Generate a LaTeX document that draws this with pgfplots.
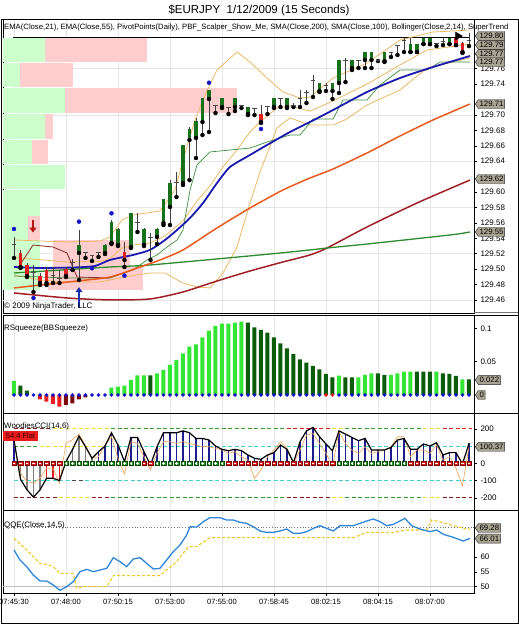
\documentclass[border=0pt]{standalone}
\usepackage{pgfplots}
\pgfplotsset{compat=1.18}
\usepackage{pgfplotstable}
\usepackage{fontspec}
\setmainfont{Liberation Sans}
\usetikzlibrary{shapes.symbols,arrows.meta}

\definecolor{gridc}{HTML}{E6E6E6}
\definecolor{pinkz}{HTML}{FFCDCD}
\definecolor{greenz}{HTML}{CDFFCD}
\definecolor{upc}{HTML}{17701A}
\definecolor{dnc}{HTML}{E02020}
\definecolor{emablue}{HTML}{1A1AAE}
\definecolor{emaorange}{HTML}{E85A1A}
\definecolor{smared}{HTML}{A01E24}
\definecolor{smagreen}{HTML}{2D8C2D}
\definecolor{bbc}{HTML}{EBB866}
\definecolor{stgreen}{HTML}{3E8E3E}
\definecolor{maroonl}{HTML}{8E2A2A}
\definecolor{dotblue}{HTML}{1414C8}
\definecolor{arrowred}{HTML}{B81414}
\definecolor{arrowblue}{HTML}{1A30B0}
\definecolor{sqlg}{HTML}{33E633}
\definecolor{sqdg}{HTML}{0A5C0A}
\definecolor{sqr}{HTML}{E81E1E}
\definecolor{sqdr}{HTML}{7A0A0A}
\definecolor{ccib}{HTML}{1C1C8C}
\definecolor{ccio}{HTML}{F0A050}
\definecolor{lvdr}{HTML}{8B1A1A}
\definecolor{lvy}{HTML}{F0E030}
\definecolor{lvg}{HTML}{2EA02E}
\definecolor{lvr}{HTML}{E02020}
\definecolor{lvc}{HTML}{40D0D0}
\definecolor{qqeb}{HTML}{2F86D6}
\definecolor{qqey}{HTML}{F2C81E}
\definecolor{flagc}{HTML}{A8A493}

\pgfplotstableread{
i o h l c t
0 129.5326 129.5417 129.5145 129.5326 0
1 129.5210 129.5249 129.5015 129.5028 -1
2 129.5054 129.5080 129.4898 129.4911 -1
3 129.4963 129.5054 129.4704 129.4963 0
4 129.4911 129.4950 129.4795 129.4820 -1
5 129.4989 129.5028 129.4795 129.4820 -1
6 129.4924 129.5028 129.4820 129.4924 0
7 129.4885 129.4989 129.4820 129.4885 0
8 129.5002 129.5028 129.4898 129.4911 -1
9 129.5093 129.5132 129.4989 129.5093 0
10 129.5210 129.5508 129.4859 129.5313 1
11 129.5223 129.5223 129.5145 129.5223 0
12 129.5184 129.5184 129.5106 129.5184 0
13 129.5223 129.5223 129.5158 129.5223 0
14 129.5210 129.5326 129.5197 129.5313 1
15 129.5339 129.5638 129.5326 129.5612 1
16 129.5313 129.5534 129.5300 129.5521 1
17 129.5223 129.5352 129.5028 129.5119 -1
18 129.5287 129.5728 129.5274 129.5728 1
19 129.5612 129.5728 129.5482 129.5612 0
20 129.5313 129.5534 129.5300 129.5521 1
21 129.5417 129.5469 129.5119 129.5417 0
22 129.5417 129.5534 129.5326 129.5521 1
23 129.5599 129.5910 129.5573 129.5910 1
24 129.5806 129.6156 129.5573 129.6117 1
25 129.6130 129.6260 129.5936 129.6130 0
26 129.6117 129.6610 129.6092 129.6610 1
27 129.6675 129.6844 129.6156 129.6818 1
28 129.6701 129.6961 129.6442 129.6922 1
29 129.6909 129.7220 129.6740 129.7220 1
30 129.7207 129.7324 129.6779 129.7324 1
31 129.7129 129.7129 129.7025 129.7129 0
32 129.7103 129.7220 129.7090 129.7220 1
33 129.7103 129.7103 129.7012 129.7103 0
34 129.7103 129.7220 129.7051 129.7220 1
35 129.7129 129.7129 129.7090 129.7129 0
36 129.7012 129.7103 129.6999 129.7103 1
37 129.7090 129.7090 129.6999 129.7090 0
38 129.7012 129.7129 129.6896 129.6909 -1
39 129.7116 129.7116 129.7012 129.7116 0
40 129.7103 129.7220 129.7090 129.7220 1
41 129.7220 129.7220 129.7103 129.7220 0
42 129.7103 129.7220 129.7090 129.7220 1
43 129.7129 129.7155 129.7103 129.7129 0
44 129.7220 129.7324 129.7103 129.7220 0
45 129.7298 129.7324 129.7155 129.7298 0
46 129.7453 129.7518 129.7233 129.7453 0
47 129.7311 129.7414 129.7298 129.7414 1
48 129.7389 129.7414 129.7311 129.7389 0
49 129.7311 129.7414 129.7207 129.7414 1
50 129.7414 129.7713 129.7285 129.7713 1
51 129.7713 129.7739 129.7427 129.7713 0
52 129.7609 129.7713 129.7583 129.7713 1
53 129.7713 129.7713 129.7609 129.7713 0
54 129.7713 129.7817 129.7609 129.7817 1
55 129.7713 129.7817 129.7609 129.7817 1
56 129.7713 129.7713 129.7700 129.7713 0
57 129.7700 129.7817 129.7687 129.7817 1
58 129.7817 129.7817 129.7752 129.7817 0
59 129.7907 129.7907 129.7778 129.7907 0
60 129.7972 129.7998 129.7817 129.7972 0
61 129.7817 129.7998 129.7817 129.7920 1
62 129.7817 129.7920 129.7817 129.7920 1
63 129.7920 129.7998 129.7920 129.7998 1
64 129.7920 129.7998 129.7920 129.7998 1
65 129.7933 129.7933 129.7894 129.7933 0
66 129.7959 129.7998 129.7907 129.7959 0
67 129.7920 129.7998 129.7920 129.7998 1
68 129.7998 129.8024 129.7907 129.7907 -1
69 129.7933 129.7946 129.7804 129.7817 -1
70 129.7972 129.8063 129.7894 129.7972 0
}\candles

\pgfplotstableread{
i v k d
0 0.021 1 1
1 0.014 2 1
2 0.0065 2 1
3 0 2 1
4 -0.0065 3 1
5 -0.010 3 1
6 -0.0135 3 1
7 -0.0175 3 1
8 -0.015 4 1
9 -0.0125 4 1
10 -0.0065 4 1
11 -0.0035 4 1
12 0 1 1
13 0 1 1
14 0 1 1
15 0.011 1 1
16 0.0125 1 1
17 0.014 1 1
18 0.0225 1 1
19 0.0295 1 1
20 0.0295 1 1
21 0.0295 2 1
22 0.0325 1 1
23 0.0375 1 1
24 0.045 1 1
25 0.0525 1 1
26 0.0625 1 1
27 0.0725 1 1
28 0.076 1 1
29 0.0865 1 1
30 0.0965 1 1
31 0.1035 1 1
32 0.107 1 1
33 0.107 1 1
34 0.1085 1 1
35 0.110 1 1
36 0.1085 2 1
37 0.1015 2 1
38 0.0975 2 1
39 0.0935 2 1
40 0.0865 2 1
41 0.0775 2 1
42 0.070 2 1
43 0.0615 2 1
44 0.0535 2 1
45 0.0485 2 1
46 0.0435 2 1
47 0.0385 2 1
48 0.0315 2 2
49 0.0265 2 2
50 0.029 1 1
51 0.0265 2 1
52 0.0265 2 1
53 0.0265 1 1
54 0.030 1 1
55 0.0325 1 1
56 0.0325 2 1
57 0.030 2 1
58 0.030 1 1
59 0.0325 1 1
60 0.035 1 1
61 0.035 1 1
62 0.035 2 1
63 0.035 2 1
64 0.035 2 1
65 0.035 1 1
66 0.0325 2 1
67 0.0315 2 1
68 0.0285 2 1
69 0.0235 1 1
70 0.0235 2 1
}\sq

\pgfplotstableread{
i cci tc hc zc
0 135 115 1 2
1 -92 -58 2 2
2 -154 -106 2 2
3 -196 -115 2 2
4 -154 -87 2 2
5 -87 -29 3 2
6 -87 -29 3 2
7 -100 -115 3 2
8 10 115 2 1
9 80 138 2 1
10 158 169 2 1
11 96 106 2 1
12 29 29 2 1
13 67 38 1 1
14 100 106 1 1
15 177 154 1 1
16 106 29 1 1
17 10 -62 1 1
18 150 125 1 1
19 150 115 1 1
20 67 38 1 2
21 -10 -38 1 2
22 96 58 1 1
23 177 125 1 1
24 177 125 1 1
25 177 115 1 1
26 188 125 1 1
27 177 115 1 1
28 144 106 1 1
29 144 96 1 1
30 135 96 1 1
31 100 87 1 1
32 81 77 1 1
33 73 58 1 2
34 81 67 1 2
35 73 38 1 2
36 48 19 1 2
37 29 -87 1 2
38 23 -38 1 2
39 48 38 1 2
40 62 77 1 2
41 106 125 1 2
42 81 87 1 2
43 4 0 1 2
44 125 77 1 2
45 188 163 1 2
46 208 173 1 2
47 154 115 1 2
48 112 58 1 2
49 73 -19 1 2
50 188 183 1 1
51 169 115 1 1
52 150 77 1 1
53 131 58 1 1
54 144 96 1 1
55 77 58 1 1
56 77 67 1 1
57 77 77 1 1
58 92 96 1 1
59 135 154 1 1
60 144 154 1 1
61 81 38 1 2
62 81 77 1 2
63 112 77 1 2
64 100 58 1 2
65 119 106 1 2
66 48 19 1 2
67 62 38 1 2
68 62 -29 1 2
69 -4 -131 1 2
70 115 96 1 2
}\cci

\pgfplotsset{
  panel/.style={scale only axis, width=471pt, xmin=-1.692, xmax=70.77, anchor=south west,
    axis line style={black, line width=0.6pt},
    xtick={0,8,16,24,32,40,48,56,64}, xmajorgrids, major grid style={gridc, line width=0.5pt},
    ytick pos=right, yticklabel pos=right, tick align=outside, major tick length=3pt,
    tick style={black, line width=0.5pt},
    ticklabel style={font=\fontsize{8}{9}\selectfont},
    /pgf/number format/assume math mode=true,
    scaled y ticks=false, clip mode=individual},
  nox/.style={xticklabels={}, xmajorticks=false},
  lvl/.style={line width=1.1pt, dash pattern=on 4pt off 2.5pt},
}
\tikzset{
  flag/.style={signal, signal to=west, signal pointer angle=110, draw=black!85, fill=flagc,
    line width=0.4pt, inner xsep=1.2pt, inner ysep=0.3pt, minimum height=9pt,
    font=\fontsize{7.8}{8}\selectfont, anchor=west},
}

\begin{document}
\begin{tikzpicture}[x=1pt,y=1pt]
\path[use as bounding box] (0,0) rectangle (519,625);

\node[font=\fontsize{11.5}{13}\selectfont] at (259,615) {\$EURJPY\ \ 1/12/2009 (15 Seconds)};

% ===== main price panel =====
\begin{axis}[panel, nox, at={(3pt,312pt)}, height=294pt,
  ymin=129.4431, ymax=129.8245,
  ytick={129.46,129.48,129.50,129.52,129.54,129.56,129.58,129.60,129.64,129.66,129.68,129.70,129.74,129.76},
  yticklabel style={/pgf/number format/.cd, fixed, fixed zerofill, precision=2},
  extra y ticks={129.46,129.52,129.58,129.64,129.70,129.76},
  extra y tick labels={},
  extra y tick style={grid=major, major tick length=0pt}]

\addplot[fill=greenz, draw=none] coordinates {(-1.692,129.7687)(4.77,129.7687)(4.77,129.7998)(-1.692,129.7998)} -- cycle;
\addplot[fill=greenz, draw=none] coordinates {(-1.692,129.7363)(0.92,129.7363)(0.92,129.7674)(-1.692,129.7674)} -- cycle;
\addplot[fill=greenz, draw=none] coordinates {(-1.692,129.7025)(7.85,129.7025)(7.85,129.7350)(-1.692,129.7350)} -- cycle;
\addplot[fill=greenz, draw=none] coordinates {(-1.692,129.6688)(4.77,129.6688)(4.77,129.7012)(-1.692,129.7012)} -- cycle;
\addplot[fill=greenz, draw=none] coordinates {(-1.692,129.6364)(2.77,129.6364)(2.77,129.6675)(-1.692,129.6675)} -- cycle;
\addplot[fill=greenz, draw=none] coordinates {(-1.692,129.6040)(7.85,129.6040)(7.85,129.6351)(-1.692,129.6351)} -- cycle;
\addplot[fill=greenz, draw=none] coordinates {(-1.692,129.4730)(4.0,129.4730)(4.0,129.6027)(-1.692,129.6027)} -- cycle;
\addplot[fill=pinkz, draw=none] coordinates {(4.77,129.7687)(20.46,129.7687)(20.46,129.7998)(4.77,129.7998)} -- cycle;
\addplot[fill=pinkz, draw=none] coordinates {(0.92,129.7363)(9.08,129.7363)(9.08,129.7674)(0.92,129.7674)} -- cycle;
\addplot[fill=pinkz, draw=none] coordinates {(7.85,129.7025)(34.3,129.7025)(34.3,129.7350)(7.85,129.7350)} -- cycle;
\addplot[fill=pinkz, draw=none] coordinates {(4.77,129.6688)(6.0,129.6688)(6.0,129.7012)(4.77,129.7012)} -- cycle;
\addplot[fill=pinkz, draw=none] coordinates {(2.77,129.6364)(5.23,129.6364)(5.23,129.6675)(2.77,129.6675)} -- cycle;
\addplot[fill=pinkz, draw=none] coordinates {(2.15,129.5378)(4.0,129.5378)(4.0,129.5689)(2.15,129.5689)} -- cycle;
\addplot[fill=pinkz, draw=none] coordinates {(6.0,129.5028)(17.85,129.5028)(17.85,129.5378)(6.0,129.5378)} -- cycle;
\addplot[fill=pinkz, draw=none] coordinates {(5.23,129.4730)(19.85,129.4730)(19.85,129.5028)(5.23,129.5028)} -- cycle;

\addplot[black, line width=1pt] coordinates {(-0.15,129.80)(70.15,129.80)};

\addplot[bbc, line width=0.8pt] coordinates {(0,129.5378)(8.15,129.5352)(13.23,129.5365)(14.77,129.5417)(16.62,129.5638)(18.31,129.5702)(22.46,129.5754)(24.77,129.6027)(26.0,129.6416)(27.85,129.6935)(29.38,129.7259)(31.23,129.7583)(34.31,129.7817)(36.31,129.7687)(38.92,129.7479)(41.38,129.7298)(44.0,129.7220)(45.54,129.7233)(49.08,129.7479)(54.31,129.7674)(59.38,129.7972)(64.46,129.8076)(70.15,129.8102)};
\addplot[bbc, line width=0.8pt] coordinates {(0,129.5151)(8.15,129.5093)(13.23,129.5099)(14.77,129.5138)(16.62,129.5274)(18.31,129.5313)(20.92,129.5339)(23.23,129.5430)(26.0,129.5625)(28.15,129.5884)(30.15,129.6079)(32.15,129.6325)(34.31,129.6546)(36.31,129.6779)(37.85,129.6909)(40.46,129.7090)(42.46,129.7116)(45.54,129.7051)(49.08,129.7181)(54.31,129.7401)(59.38,129.7648)(63.54,129.7843)(70.15,129.7920)};
\addplot[bbc, line width=0.8pt] coordinates {(0,129.4924)(4,129.4859)(8.15,129.4833)(13.23,129.4833)(14.77,129.4859)(17.85,129.4911)(20.92,129.4950)(23.23,129.4950)(26.0,129.4820)(28.15,129.4769)(30.15,129.4756)(32.15,129.4950)(34.31,129.5287)(36.31,129.5858)(37.85,129.6260)(40.46,129.6831)(42.46,129.6961)(45.54,129.6870)(49.08,129.6870)(50.92,129.6935)(54.31,129.7129)(59.38,129.7324)(63.54,129.7609)(70.15,129.7739)};

\addplot[stgreen, line width=0.7pt] coordinates {(0,129.4911)(8.15,129.4885)(14.77,129.4885)(18.31,129.4989)(20.46,129.5119)(22.0,129.5184)(23.54,129.5287)(25.08,129.5378)(26.0,129.5508)(27.08,129.6027)(28.15,129.6351)(30.15,129.6520)(36.31,129.6571)(38.92,129.6649)(42.46,129.6740)(44.0,129.6740)(46.0,129.6948)(49.08,129.6948)(50.62,129.7194)(54.31,129.7194)(56.31,129.7389)(59.38,129.7583)(63.54,129.7583)(65.54,129.7687)(70.15,129.7687)};
\addplot[maroonl, line width=0.8pt] coordinates {(0.92,129.5054)(2.92,129.5313)(6.0,129.5287)(8.15,129.5210)(9.69,129.4898)(14.77,129.4885)};

\addplot[smared, line width=1.5pt, smooth, tension=0.4] coordinates {(0,129.4691)(8.15,129.4626)(14.77,129.4600)(20.92,129.4613)(26.0,129.4704)(31.23,129.4846)(36.31,129.4976)(41.38,129.5093)(45.54,129.5184)(48.15,129.5274)(54.31,129.5547)(62.0,129.5858)(70.15,129.6156)};
\addplot[smagreen, line width=1.3pt, smooth, tension=0.4] coordinates {(0,129.4950)(14.77,129.5028)(20.92,129.5054)(37.85,129.5184)(45.54,129.5249)(48.15,129.5274)(54.31,129.5326)(67.08,129.5443)(70.15,129.5482)};
\addplot[emaorange, line width=1.5pt, smooth, tension=0.4] coordinates {(0,129.4756)(9.69,129.4846)(14.77,129.4898)(19.85,129.5041)(22.46,129.5119)(26.0,129.5249)(31.23,129.5534)(36.31,129.5793)(41.38,129.6027)(45.54,129.6182)(49.08,129.6299)(54.31,129.6507)(59.38,129.6727)(64.46,129.6935)(70.15,129.7142)};
\addplot[emablue, line width=1.8pt, smooth, tension=0.4] coordinates {(0,129.5028)(4,129.5015)(9.38,129.5022)(12.46,129.5041)(14.77,129.5119)(18.31,129.5184)(20.92,129.5249)(23.23,129.5378)(25.08,129.5508)(27.08,129.5664)(29.08,129.5858)(31.23,129.6117)(33.23,129.6325)(36.31,129.6481)(38.92,129.6610)(42.46,129.6779)(45.54,129.6909)(49.08,129.7064)(54.31,129.7298)(59.38,129.7479)(64.46,129.7622)(70.15,129.7765)};

\addplot[only marks, mark=none, error bars/.cd, y dir=plus, y explicit, error mark=none,
  error bar style={draw=black!75, line width=0.7pt}]
  table[x=i, y=l, y error expr=\thisrow{h}-\thisrow{l}] {\candles};
\addplot[only marks, mark=none, restrict expr to domain={\thisrow{t}}{0.5:1.5},
  error bars/.cd, y dir=plus, y explicit, error mark=none,
  error bar style={draw=upc, line width=3.6pt}]
  table[x=i, y=o, y error expr=\thisrow{c}-\thisrow{o}] {\candles};
\addplot[only marks, mark=none, restrict expr to domain={\thisrow{t}}{-1.5:-0.5},
  error bars/.cd, y dir=plus, y explicit, error mark=none,
  error bar style={draw=dnc, line width=3.6pt}]
  table[x=i, y=c, y error expr=\thisrow{o}-\thisrow{c}] {\candles};
\addplot[only marks, mark=-, mark size=2.2pt, mark options={draw=black!70, line width=0.8pt},
  restrict expr to domain={\thisrow{t}}{-0.5:0.5}]
  table[x=i, y=o] {\candles};

\addplot[only marks, mark=*, mark size=2pt, mark options={fill=dotblue, draw=dotblue}] coordinates {(0,129.5521)(3,129.4626)(10,129.5616)(12,129.5011)(15,129.5724)(17,129.4915)(30,129.7418)(38,129.6818)};
\addplot[quiver={u=0,v=-0.0165}, -{Triangle[width=7pt,length=5pt]}, line width=2.4pt, arrowred] coordinates {(2.92,129.5640)};
\addplot[quiver={u=0,v=0.027}, -{Triangle[width=7pt,length=5pt]}, line width=2.4pt, arrowblue] coordinates {(10,129.4496)};
\addplot[only marks, mark=triangle*, mark size=4.5pt, mark options={rotate=-90, fill=black, draw=black}] coordinates {(68.3,129.8024)};

\coordinate (m1) at (axis cs:70.77,129.8024);
\coordinate (m2) at (axis cs:70.77,129.7907);
\coordinate (m3) at (axis cs:70.77,129.7790);
\coordinate (m4) at (axis cs:70.77,129.7687);
\coordinate (m5) at (axis cs:70.77,129.7142);
\coordinate (m6) at (axis cs:70.77,129.6169);
\coordinate (m7) at (axis cs:70.77,129.5482);
\end{axis}

% ===== RSqueeze panel =====
\begin{axis}[panel, nox, at={(3pt,212pt)}, height=98pt,
  ymin=-0.027, ymax=0.12, ytick={0.05,0.1},
  yticklabel style={/pgf/number format/fixed}]
\addplot[ybar, bar width=4pt, bar shift=0pt, fill=sqlg, draw=none, restrict expr to domain={\thisrow{k}}{0.5:1.5}] table[x=i,y=v] {\sq};
\addplot[ybar, bar width=4pt, bar shift=0pt, fill=sqdg, draw=none, restrict expr to domain={\thisrow{k}}{1.5:2.5}] table[x=i,y=v] {\sq};
\addplot[ybar, bar width=4pt, bar shift=0pt, fill=sqr, draw=none, restrict expr to domain={\thisrow{k}}{2.5:3.5}] table[x=i,y=v] {\sq};
\addplot[ybar, bar width=4pt, bar shift=0pt, fill=sqdr, draw=none, restrict expr to domain={\thisrow{k}}{3.5:4.5}] table[x=i,y=v] {\sq};
\addplot[only marks, mark=*, mark size=1.7pt, mark options={fill=dotblue, draw=dotblue}, restrict expr to domain={\thisrow{d}}{0.5:1.5}] table[x=i,y expr=0] {\sq};
\addplot[only marks, mark=*, mark size=1.7pt, mark options={fill=sqr, draw=sqr}, restrict expr to domain={\thisrow{d}}{1.5:2.5}] table[x=i,y expr=0] {\sq};
\coordinate (s1) at (axis cs:70.77,0.0224);
\coordinate (s2) at (axis cs:70.77,0);
\end{axis}

% ===== CCI panel =====
\begin{axis}[panel, nox, at={(3pt,115pt)}, height=97pt,
  ymin=-270.7, ymax=291.6, ytick={-200,-100,0,200}]
\addplot[lvl, lvdr] coordinates {(0,200)(6,200)};
\addplot[lvl, lvy] coordinates {(6,200)(15,200)};
\addplot[lvl, lvg] coordinates {(15,200)(42,200)};
\addplot[lvl, lvr] coordinates {(42,200)(49,200)};
\addplot[lvl, lvy] coordinates {(49,200)(51,200)};
\addplot[lvl, lvg] coordinates {(51,200)(63,200)};
\addplot[lvl, lvy] coordinates {(63,200)(66,200)};
\addplot[lvl, lvr] coordinates {(66,200)(70.5,200)};
\addplot[lvl, lvdr] coordinates {(0,-200)(7,-200)};
\addplot[lvl, lvy] coordinates {(7,-200)(12,-200)};
\addplot[lvl, lvdr] coordinates {(12,-200)(15,-200)};
\addplot[lvl, lvg] coordinates {(15,-200)(42,-200)};
\addplot[lvl, lvdr] coordinates {(42,-200)(49,-200)};
\addplot[lvl, lvy] coordinates {(49,-200)(51,-200)};
\addplot[lvl, lvg] coordinates {(51,-200)(63,-200)};
\addplot[lvl, lvy] coordinates {(63,-200)(66,-200)};
\addplot[lvl, lvdr] coordinates {(66,-200)(70.5,-200)};
\addplot[lvl, lvg] coordinates {(0,100)(4,100)};
\addplot[lvl, lvy] coordinates {(4,100)(14,100)};
\addplot[lvl, lvc] coordinates {(14,100)(70.5,100)};
\addplot[lvl, lvc] coordinates {(0,-100)(9,-100)};
\addplot[lvl, black!70] coordinates {(9,-100)(11,-100)};
\addplot[lvl, lvc] coordinates {(11,-100)(70.5,-100)};
\addplot[ycomb, line width=1.3pt, ccib, restrict expr to domain={\thisrow{hc}}{0.5:1.5}] table[x=i,y=cci] {\cci};
\addplot[ycomb, line width=1.3pt, gray, restrict expr to domain={\thisrow{hc}}{1.5:2.5}] table[x=i,y=cci] {\cci};
\addplot[ycomb, line width=1.3pt, lvr, restrict expr to domain={\thisrow{hc}}{2.5:3.5}] table[x=i,y=cci] {\cci};
\addplot[ccio, line width=0.6pt] table[x=i,y=tc] {\cci};
\addplot[black, line width=1.2pt] table[x=i,y=cci] {\cci};
\addplot[only marks, mark=square*, mark size=2.2pt, mark options={fill=lvg, draw=green!30!black, line width=0.3pt}, restrict expr to domain={\thisrow{zc}}{0.5:1.5}] table[x=i,y expr=0] {\cci};
\addplot[only marks, mark=square*, mark size=2.2pt, mark options={fill=lvr, draw=red!50!black, line width=0.3pt}, restrict expr to domain={\thisrow{zc}}{1.5:2.5}] table[x=i,y expr=0] {\cci};
\addplot[only marks, mark=+, mark size=1.3pt, mark options={draw=white, line width=0.4pt}, restrict expr to domain={\thisrow{zc}}{0.5:1.5}] table[x=i,y expr=0] {\cci};
\addplot[only marks, mark=-, mark size=1.3pt, mark options={draw=white, line width=0.5pt}, restrict expr to domain={\thisrow{zc}}{1.5:2.5}] table[x=i,y expr=0] {\cci};
\coordinate (c1) at (axis cs:70.77,96);
\end{axis}

% ===== QQE panel =====
\begin{axis}[panel, at={(3pt,32pt)}, height=83pt,
  ymin=47.86, ymax=76.0, ytick={50,55,60},
  xtick pos=bottom,
  xticklabels={07:45:30,07:48:00,07:50:15,07:53:00,07:55:00,07:58:45,08:02:15,08:04:15,08:07:00},
  xticklabel style={font=\fontsize{7.6}{9}\selectfont}]
\addplot[black!25, line width=1.6pt] coordinates {(-1.692,50)(70.77,50)};
\addplot[black!55, dotted, line width=0.8pt] coordinates {(-1.692,70)(70.77,70)};
\addplot[qqey, line width=1.1pt, dash pattern=on 3pt off 2pt] coordinates {(0,66.39)(1.95,62.43)(4.0,57.92)(5.03,57.58)(6.05,56.79)(7.08,54.53)(9.13,54.53)(9.64,49.44)(10.67,50.0)(14.26,50.0)(15.28,53.73)(22.46,53.73)(23.49,55.66)(25.03,58.48)(26.82,63.57)(28.10,63.57)(30.15,66.62)(52.21,66.62)(54.26,68.42)(58.36,68.42)(60.41,69.21)(63.49,69.21)(64.26,72.60)(65.54,72.04)(67.59,70.68)(69.64,69.55)(70.15,69.55)};
\addplot[qqeb, line width=1.3pt] coordinates {(0,62.43)(0.92,59.05)(1.95,56.79)(2.97,53.96)(4.0,51.93)(5.03,51.93)(6.05,50.57)(7.08,48.76)(8.10,50.0)(9.13,51.70)(10.15,55.09)(11.18,55.88)(12.21,55.09)(13.23,55.66)(14.26,56.22)(15.28,59.84)(16.31,58.48)(17.33,56.79)(18.36,59.38)(19.38,59.84)(20.41,57.92)(21.44,55.99)(22.46,56.22)(23.49,59.05)(24.51,61.87)(25.54,64.13)(26.56,67.52)(27.08,70.34)(28.10,70.23)(29.13,72.04)(30.15,73.40)(31.69,73.40)(32.72,72.60)(33.74,72.60)(34.77,71.81)(35.79,71.47)(36.82,70.34)(37.85,68.88)(38.87,68.42)(39.90,68.42)(40.92,68.88)(41.95,69.55)(42.97,68.09)(44.0,68.09)(45.03,68.65)(46.05,69.78)(47.08,70.68)(48.10,69.78)(49.13,68.88)(50.15,70.68)(51.18,70.68)(52.21,70.68)(53.23,71.47)(54.26,72.27)(55.28,72.94)(56.31,72.04)(57.33,70.68)(58.36,71.14)(59.38,72.27)(60.15,73.17)(61.18,70.68)(62.46,69.55)(64.0,68.65)(65.03,69.21)(66.05,67.75)(67.59,66.73)(69.13,65.49)(70.15,66.39)};
\coordinate (q1) at (axis cs:70.77,69.9);
\coordinate (q2) at (axis cs:70.77,66.3);
\end{axis}

\begin{scope}
\clip (0,0) rectangle (517,625);
\node[anchor=west, font=\fontsize{7.7}{8}\selectfont, inner sep=0] at (4,597) {EMA(Close,21), EMA(Close,55), PivotPoints(Daily), PBF\_Scalper\_Show\_Me, SMA(Close,200), SMA(Close,100), Bollinger(Close,2,14), SuperTrend};
\end{scope}
\node[anchor=west, font=\fontsize{8}{9}\selectfont, inner sep=0] at (4,319) {\textcopyright\ 2009 NinjaTrader, LLC};
\node[anchor=west, font=\fontsize{7.9}{8}\selectfont, inner sep=0] at (4,297) {RSqueeze(BBSqueeze)};
\node[anchor=west, font=\fontsize{7.9}{8}\selectfont, inner sep=0] at (4,199) {WoodiesCCI(14,6)};
\node[fill=sqr, text=black!75!red, font=\fontsize{7.5}{8}\selectfont, inner sep=0, minimum width=35pt, minimum height=10pt] at (20.5,189) {54.4 Flat};
\node[anchor=west, font=\fontsize{7.9}{8}\selectfont, inner sep=0] at (4,100) {QQE(Close,14,5)};

\node[flag] at ([xshift=1pt]m1) {129.80};
\node[flag] at ([xshift=1pt]m2) {129.79};
\node[flag] at ([xshift=1pt]m3) {129.77};
\node[flag] at ([xshift=1pt]m4) {129.77};
\node[flag] at ([xshift=1pt]m5) {129.71};
\node[flag] at ([xshift=1pt]m6) {129.62};
\node[flag] at ([xshift=1pt]m7) {129.55};
\node[flag] at ([xshift=1pt]s1) {0.022};
\node[flag] at ([xshift=1pt]s2) {0};
\node[flag] at ([xshift=1pt]c1) {100.37};
\node[flag] at ([xshift=1pt]q1) {69.28};
\node[flag] at ([xshift=1pt]q2) {66.01};

\draw[black, line width=0.6pt] (1,2) rectangle (518,606);
\draw[black!55, line width=0.6pt] (474,313) -- (518,313);
\draw[black, line width=0.6pt] (474,310) -- (518,310);
\draw[black, line width=0.6pt] (474,212) -- (518,212);
\draw[black, line width=0.6pt] (474,115) -- (518,115);
\end{tikzpicture}
\end{document}
